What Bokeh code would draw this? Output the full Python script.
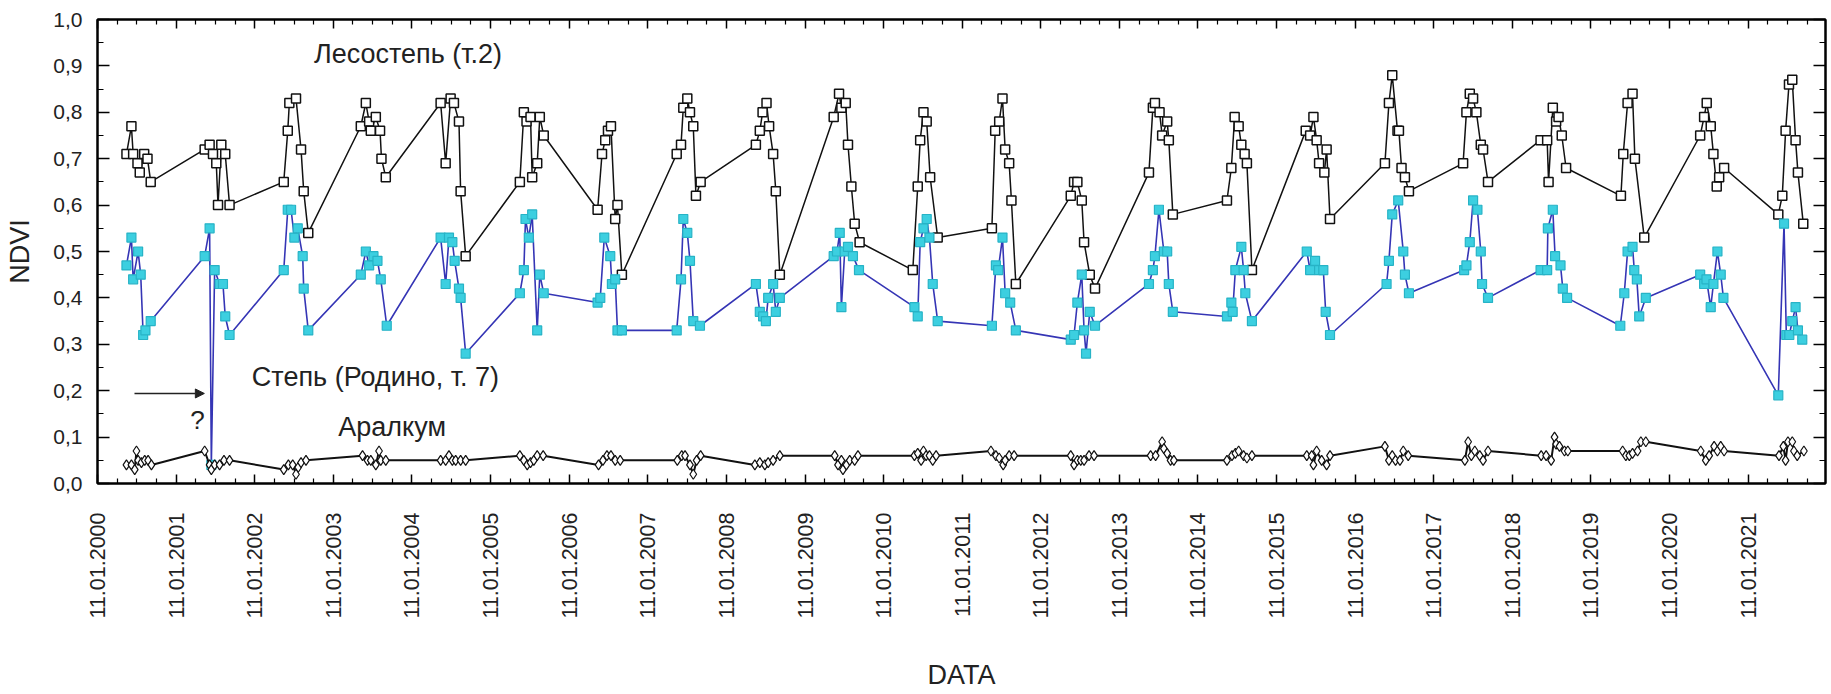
import math
from datetime import datetime

from bokeh.plotting import figure
from bokeh.models import (ColumnDataSource, FixedTicker, DatetimeTickFormatter, SingleIntervalTicker,
                          CustomJSTickFormatter, CustomLabelingPolicy, LinearAxis, DatetimeAxis,
                          Label, Arrow, NormalHead, Range1d)
from bokeh.embed import file_html
from bokeh.resources import INLINE

# ---------------- data (dates as decimal years) ----------------
forest_dates = [
    2000.395, 2000.458, 2000.480, 2000.535, 2000.564, 2000.620, 2000.662, 2000.703,
    2001.389, 2001.452, 2001.495, 2001.537, 2001.559, 2001.601, 2001.651, 2001.706,
    2002.396, 2002.447, 2002.467, 2002.552, 2002.616, 2002.650, 2002.708,
    2003.377, 2003.441, 2003.483, 2003.504, 2003.568, 2003.622, 2003.640, 2003.695,
    2004.392, 2004.456, 2004.519, 2004.561, 2004.625, 2004.646, 2004.710,
    2005.399, 2005.450, 2005.484, 2005.535, 2005.556, 2005.620, 2005.653, 2005.703,
    2006.389, 2006.445, 2006.486, 2006.521, 2006.559, 2006.613, 2006.642, 2006.698,
    2007.396, 2007.451, 2007.480, 2007.531, 2007.565, 2007.607, 2007.641, 2007.701,
    2008.403, 2008.453, 2008.488, 2008.538, 2008.571, 2008.622, 2008.656, 2008.707,
    2009.392, 2009.460, 2009.490, 2009.545, 2009.574, 2009.617, 2009.659, 2009.722,
    2010.399, 2010.462, 2010.493, 2010.535, 2010.576, 2010.620, 2010.716,
    2011.406, 2011.448, 2011.499, 2011.541, 2011.575, 2011.626, 2011.655, 2011.711,
    2012.409, 2012.451, 2012.493, 2012.549, 2012.578, 2012.650, 2012.717,
    2013.403, 2013.453, 2013.479, 2013.538, 2013.571, 2013.635, 2013.656, 2013.707,
    2014.396, 2014.452, 2014.494, 2014.545, 2014.579, 2014.621, 2014.650, 2014.714,
    2015.399, 2015.455, 2015.497, 2015.538, 2015.569, 2015.636, 2015.665, 2015.708,
    2016.406, 2016.457, 2016.499, 2016.566, 2016.584, 2016.617, 2016.660, 2016.711,
    2017.400, 2017.442, 2017.485, 2017.527, 2017.569, 2017.625, 2017.654, 2017.717,
    2018.386, 2018.470, 2018.488, 2018.542, 2018.584, 2018.615, 2018.656, 2018.711,
    2019.409, 2019.439, 2019.494, 2019.557, 2019.587, 2019.706,
    2020.417, 2020.467, 2020.500, 2020.551, 2020.585, 2020.627, 2020.658, 2020.721,
    2021.410, 2021.461, 2021.503, 2021.546, 2021.588, 2021.630, 2021.660, 2021.728,
]
forest_ndvi = [
    0.71, 0.77, 0.71, 0.69, 0.67, 0.71, 0.70, 0.65,
    0.72, 0.73, 0.71, 0.69, 0.60, 0.73, 0.71, 0.60,
    0.65, 0.76, 0.82, 0.83, 0.72, 0.63, 0.54,
    0.77, 0.82, 0.78, 0.76, 0.79, 0.76, 0.70, 0.66,
    0.82, 0.69, 0.83, 0.82, 0.78, 0.63, 0.49,
    0.65, 0.80, 0.78, 0.79, 0.66, 0.69, 0.79, 0.75,
    0.59, 0.71, 0.74, 0.76, 0.77, 0.57, 0.60, 0.45,
    0.71, 0.73, 0.81, 0.83, 0.80, 0.77, 0.62, 0.65,
    0.73, 0.76, 0.80, 0.82, 0.77, 0.71, 0.63, 0.45,
    0.79, 0.84, 0.81, 0.82, 0.73, 0.64, 0.56, 0.52,
    0.46, 0.64, 0.74, 0.80, 0.78, 0.66, 0.53,
    0.55, 0.76, 0.78, 0.83, 0.72, 0.69, 0.61, 0.43,
    0.62, 0.65, 0.65, 0.61, 0.52, 0.45, 0.42,
    0.67, 0.81, 0.82, 0.80, 0.75, 0.78, 0.74, 0.58,
    0.61, 0.68, 0.79, 0.77, 0.73, 0.71, 0.69, 0.46,
    0.76, 0.75, 0.79, 0.74, 0.69, 0.67, 0.72, 0.57,
    0.69, 0.82, 0.88, 0.76, 0.76, 0.68, 0.66, 0.63,
    0.69, 0.80, 0.84, 0.83, 0.80, 0.73, 0.72, 0.65,
    0.74, 0.74, 0.65, 0.81, 0.78, 0.79, 0.75, 0.68,
    0.62, 0.71, 0.82, 0.84, 0.70, 0.53,
    0.75, 0.79, 0.82, 0.77, 0.71, 0.64, 0.66, 0.68,
    0.58, 0.62, 0.76, 0.86, 0.87, 0.74, 0.67, 0.56,
]

steppe_dates = [
    2000.395, 2000.458, 2000.480, 2000.543, 2000.576, 2000.607, 2000.636, 2000.703,
    2001.389, 2001.452, 2001.474, 2001.516, 2001.579, 2001.622, 2001.651, 2001.706,
    2002.396, 2002.447, 2002.489, 2002.531, 2002.574, 2002.637, 2002.650, 2002.708,
    2003.377, 2003.441, 2003.483, 2003.538, 2003.589, 2003.631, 2003.707,
    2004.392, 2004.456, 2004.498, 2004.541, 2004.570, 2004.625, 2004.646, 2004.710,
    2005.399, 2005.450, 2005.471, 2005.513, 2005.556, 2005.620, 2005.653, 2005.703,
    2006.389, 2006.423, 2006.474, 2006.550, 2006.571, 2006.613, 2006.642, 2006.698,
    2007.396, 2007.451, 2007.480, 2007.531, 2007.565, 2007.607, 2007.692,
    2008.403, 2008.453, 2008.495, 2008.530, 2008.559, 2008.622, 2008.656, 2008.707,
    2009.392, 2009.434, 2009.469, 2009.490, 2009.532, 2009.574, 2009.637, 2009.714,
    2010.420, 2010.462, 2010.493, 2010.535, 2010.576, 2010.611, 2010.653, 2010.716,
    2011.406, 2011.457, 2011.486, 2011.541, 2011.575, 2011.639, 2011.711,
    2012.409, 2012.451, 2012.493, 2012.549, 2012.578, 2012.603, 2012.650, 2012.717,
    2013.403, 2013.453, 2013.479, 2013.530, 2013.593, 2013.635, 2013.656, 2013.707,
    2014.396, 2014.452, 2014.469, 2014.503, 2014.579, 2014.608, 2014.630, 2014.714,
    2015.412, 2015.455, 2015.518, 2015.569, 2015.623, 2015.653, 2015.708,
    2016.427, 2016.457, 2016.499, 2016.575, 2016.639, 2016.660, 2016.711,
    2017.413, 2017.442, 2017.485, 2017.527, 2017.582, 2017.625, 2017.641, 2017.717,
    2018.386, 2018.470, 2018.479, 2018.542, 2018.571, 2018.640, 2018.669, 2018.724,
    2019.401, 2019.452, 2019.494, 2019.557, 2019.579, 2019.612, 2019.642, 2019.726,
    2020.417, 2020.467, 2020.497, 2020.551, 2020.585, 2020.636, 2020.678, 2020.712,
    2021.410, 2021.483, 2021.512, 2021.550, 2021.588, 2021.630, 2021.660, 2021.715,
]
steppe_ndvi = [
    0.47, 0.53, 0.44, 0.50, 0.45, 0.32, 0.33, 0.35,
    0.49, 0.55, 0.04, 0.46, 0.43, 0.43, 0.36, 0.32,
    0.46, 0.59, 0.59, 0.53, 0.55, 0.49, 0.42, 0.33,
    0.45, 0.50, 0.47, 0.49, 0.48, 0.44, 0.34,
    0.53, 0.43, 0.53, 0.52, 0.48, 0.42, 0.40, 0.28,
    0.41, 0.46, 0.57, 0.53, 0.58, 0.33, 0.45, 0.41,
    0.39, 0.40, 0.53, 0.49, 0.43, 0.44, 0.33, 0.33,
    0.33, 0.44, 0.57, 0.54, 0.48, 0.35, 0.34,
    0.43, 0.37, 0.36, 0.35, 0.40, 0.43, 0.37, 0.40,
    0.49, 0.50, 0.54, 0.38, 0.50, 0.51, 0.49, 0.46,
    0.38, 0.36, 0.52, 0.55, 0.57, 0.53, 0.43, 0.35,
    0.34, 0.47, 0.46, 0.53, 0.41, 0.39, 0.33,
    0.31, 0.32, 0.39, 0.45, 0.33, 0.28, 0.37, 0.34,
    0.43, 0.46, 0.49, 0.59, 0.50, 0.50, 0.43, 0.37,
    0.36, 0.39, 0.37, 0.46, 0.51, 0.46, 0.41, 0.35,
    0.50, 0.46, 0.48, 0.46, 0.46, 0.37, 0.32,
    0.43, 0.48, 0.58, 0.61, 0.50, 0.45, 0.41,
    0.46, 0.47, 0.52, 0.61, 0.59, 0.50, 0.43, 0.40,
    0.46, 0.46, 0.55, 0.59, 0.49, 0.47, 0.42, 0.40,
    0.34, 0.41, 0.50, 0.51, 0.46, 0.44, 0.36, 0.40,
    0.45, 0.43, 0.44, 0.38, 0.43, 0.50, 0.45, 0.40,
    0.19, 0.56, 0.32, 0.32, 0.35, 0.38, 0.33, 0.31,
]

aralkum_dates = [
    2000.395, 2000.458, 2000.500, 2000.522, 2000.543, 2000.585, 2000.627, 2000.670, 2000.712,
    2001.389, 2001.452, 2001.474, 2001.516, 2001.579, 2001.635, 2001.706,
    2002.396, 2002.455, 2002.510, 2002.552, 2002.581, 2002.616, 2002.679,
    2003.399, 2003.462, 2003.504, 2003.568, 2003.609, 2003.631, 2003.695,
    2004.392, 2004.456, 2004.498, 2004.541, 2004.583, 2004.646, 2004.710,
    2005.399, 2005.450, 2005.493, 2005.535, 2005.577, 2005.620, 2005.696,
    2006.401, 2006.457, 2006.508, 2006.559, 2006.613, 2006.677,
    2007.404, 2007.460, 2007.502, 2007.565, 2007.607, 2007.650, 2007.701,
    2008.390, 2008.453, 2008.517, 2008.559, 2008.622, 2008.707,
    2009.405, 2009.447, 2009.490, 2009.510, 2009.554, 2009.596, 2009.659, 2009.701,
    2010.420, 2010.462, 2010.505, 2010.535, 2010.569, 2010.611, 2010.653, 2010.696,
    2011.394, 2011.457, 2011.499, 2011.550, 2011.575, 2011.626, 2011.689,
    2012.409, 2012.451, 2012.493, 2012.536, 2012.578, 2012.641, 2012.705,
    2013.424, 2013.488, 2013.571, 2013.593, 2013.635, 2013.678, 2013.720,
    2014.396, 2014.460, 2014.503, 2014.545, 2014.608, 2014.650, 2014.714,
    2015.412, 2015.475, 2015.497, 2015.538, 2015.602, 2015.665, 2015.708,
    2016.406, 2016.457, 2016.499, 2016.541, 2016.597, 2016.639, 2016.702,
    2017.422, 2017.464, 2017.505, 2017.549, 2017.612, 2017.654, 2017.717,
    2018.394, 2018.457, 2018.521, 2018.564, 2018.584, 2018.627, 2018.691, 2018.733,
    2019.431, 2019.472, 2019.516, 2019.557, 2019.621, 2019.663, 2019.726,
    2020.424, 2020.488, 2020.531, 2020.594, 2020.636, 2020.678, 2020.721,
    2021.419, 2021.474, 2021.503, 2021.533, 2021.588, 2021.609, 2021.651, 2021.736,
]
aralkum_ndvi = [
    0.04, 0.04, 0.03, 0.07, 0.05, 0.045, 0.05, 0.05, 0.04,
    0.07, 0.04, 0.03, 0.04, 0.04, 0.05, 0.05,
    0.03, 0.04, 0.04, 0.02, 0.035, 0.045, 0.05,
    0.06, 0.05, 0.05, 0.04, 0.07, 0.05, 0.05,
    0.05, 0.05, 0.06, 0.05, 0.05, 0.05, 0.05,
    0.06, 0.05, 0.04, 0.045, 0.05, 0.06, 0.06,
    0.04, 0.05, 0.06, 0.06, 0.05, 0.05,
    0.05, 0.06, 0.06, 0.04, 0.02, 0.05, 0.06,
    0.04, 0.045, 0.04, 0.045, 0.05, 0.06,
    0.06, 0.04, 0.05, 0.03, 0.04, 0.05, 0.05, 0.06,
    0.06, 0.065, 0.05, 0.07, 0.06, 0.06, 0.05, 0.06,
    0.07, 0.06, 0.055, 0.04, 0.05, 0.06, 0.06,
    0.06, 0.04, 0.05, 0.05, 0.05, 0.06, 0.06,
    0.06, 0.06, 0.09, 0.075, 0.065, 0.05, 0.05,
    0.05, 0.06, 0.065, 0.07, 0.06, 0.055, 0.06,
    0.06, 0.06, 0.04, 0.07, 0.05, 0.04, 0.06,
    0.08, 0.05, 0.06, 0.05, 0.05, 0.07, 0.06,
    0.05, 0.09, 0.06, 0.07, 0.06, 0.05, 0.07,
    0.06, 0.06, 0.05, 0.10, 0.085, 0.08, 0.07, 0.07,
    0.07, 0.06, 0.06, 0.065, 0.07, 0.09, 0.09,
    0.07, 0.05, 0.06, 0.08, 0.07, 0.08, 0.07,
    0.06, 0.08, 0.05, 0.09, 0.09, 0.07, 0.06, 0.07,
]

tick_years = list(range(2000, 2022))          # ticks labelled 11.01.YYYY
tick_day = "01-11"
series_names = ["Лесостепь (т.2)", "Степь (Родино, т. 7)", "Аралкум"]

# ---------------- helpers ----------------
def decyear(y):
    yr = int(y)
    a, b = datetime(yr, 1, 1), datetime(yr + 1, 1, 1)
    return a + (b - a) * (y - yr)

EPOCH = datetime(1970, 1, 1)
def ms(d):
    return (d - EPOCH).total_seconds() * 1000.0

FONT = "Liberation Sans"
TXT = "#222222"

x_start = datetime(2000, 1, 11)
x_end = datetime(2022, 1, 5)

p = figure(width=1829, height=692, x_axis_type="datetime",
           x_range=Range1d(x_start, x_end), y_range=Range1d(0, 1),
           output_backend="svg", toolbar_location=None,
           min_border_left=97, min_border_right=1, min_border_top=19, min_border_bottom=208)
p.xgrid.visible = False
p.ygrid.visible = False
p.outline_line_color = "black"
p.outline_line_width = 2
p.background_fill_color = "white"

# ---------------- series ----------------
src_f = ColumnDataSource(dict(x=[decyear(t) for t in forest_dates], y=forest_ndvi))
src_s = ColumnDataSource(dict(x=[decyear(t) for t in steppe_dates], y=steppe_ndvi))
src_a = ColumnDataSource(dict(x=[decyear(t) for t in aralkum_dates], y=aralkum_ndvi))

p.line("x", "y", source=src_f, line_color="#111111", line_width=1.5)
p.scatter("x", "y", source=src_f, marker="square", size=9, fill_color="white",
          line_color="#111111", line_width=1.5)

p.line("x", "y", source=src_s, line_color="#3535b5", line_width=1.6)
p.scatter("x", "y", source=src_s, marker="square", size=9, fill_color="#3ccfe0",
          line_color="#27b3c6", line_width=1.2)

p.line("x", "y", source=src_a, line_color="#111111", line_width=2)
p.scatter("x", "y", source=src_a, marker="diamond", size=10, fill_color="white",
          line_color="#111111", line_width=1.2)

# ---------------- axes ----------------
major_ticks = [ms(datetime.strptime(f"{y}-{tick_day}", "%Y-%m-%d")) for y in tick_years]
minor_ticks = []
for y in tick_years:
    for k in range(1, 4):
        minor_ticks.append(ms(decyear(y + 10 / 366 + 0.25 * k)))
xticker = FixedTicker(ticks=major_ticks, minor_ticks=minor_ticks)
fmt = "%d.%m.%Y"
xfmt = DatetimeTickFormatter(milliseconds=fmt, seconds=fmt, minsec=fmt, minutes=fmt, hourmin=fmt,
                             hours=fmt, days=fmt, months=fmt, years=fmt)
yticker = SingleIntervalTicker(interval=0.1, num_minor_ticks=2)

xa = p.xaxis[0]
xa.ticker = xticker
xa.formatter = xfmt
xa.major_label_orientation = math.pi / 2
xa.axis_label = "DATA"
ya = p.yaxis[0]
ya.ticker = yticker
ya.formatter = CustomJSTickFormatter(code="return tick.toFixed(1).replace('.', ',');")
ya.axis_label = "NDVI"

for ax in (xa, ya):
    ax.axis_line_width = 2
    ax.axis_line_color = "black"
    ax.major_tick_out = 0
    ax.minor_tick_out = 0
    ax.major_tick_line_width = 1.5
    ax.minor_tick_line_width = 1.2
    ax.major_label_text_font = FONT
    ax.major_label_text_color = TXT
    ax.axis_label_text_font = FONT
    ax.axis_label_text_font_size = "27px"
    ax.axis_label_text_font_style = "normal"
    ax.axis_label_text_color = TXT
xa.major_label_text_font_size = "21.5px"
ya.major_label_text_font_size = "21px"
xa.major_tick_in = 9
xa.minor_tick_in = 5
xa.major_label_standoff = 29
xa.axis_label_standoff = 38
ya.major_tick_in = 12
ya.minor_tick_in = 6
ya.major_label_standoff = 15
ya.axis_label_standoff = 15

# mirror axes on top and right: inward ticks only, no labels drawn
no_labels = CustomLabelingPolicy(code="return new Set()")
top = DatetimeAxis(ticker=xticker, formatter=xfmt, major_label_policy=no_labels,
                   major_label_text_font_size="1px", major_label_standoff=0,
                   major_tick_in=9, major_tick_out=0, minor_tick_in=5, minor_tick_out=0,
                   axis_line_width=2, major_tick_line_width=1.5, minor_tick_line_width=1.2)
p.add_layout(top, "above")
right = LinearAxis(ticker=yticker, major_label_policy=no_labels,
                   major_label_text_font_size="1px", major_label_standoff=0,
                   major_tick_in=12, major_tick_out=0, minor_tick_in=6, minor_tick_out=0,
                   axis_line_width=2, major_tick_line_width=1.5, minor_tick_line_width=1.2)
p.add_layout(right, "right")

# ---------------- annotations ----------------
def add_text(txt, xd, y, align="left", size="27px"):
    p.add_layout(Label(x=ms(decyear(xd)), y=y, text=txt, text_font=FONT, text_font_size=size,
                       text_color=TXT, text_baseline="middle", text_align=align))

add_text(series_names[0], 2002.78, 0.925)
add_text(series_names[1], 2001.99, 0.230)
add_text(series_names[2], 2003.09, 0.121)
add_text("?", 2001.296, 0.137, align="center", size="26px")

p.add_layout(Arrow(end=NormalHead(size=9, fill_color=TXT, line_color=TXT),
                   x_start=ms(decyear(2000.497)), y_start=0.194,
                   x_end=ms(decyear(2001.385)), y_end=0.194,
                   line_color=TXT, line_width=1.5))

open("out.html", "w").write(file_html(p, INLINE))
